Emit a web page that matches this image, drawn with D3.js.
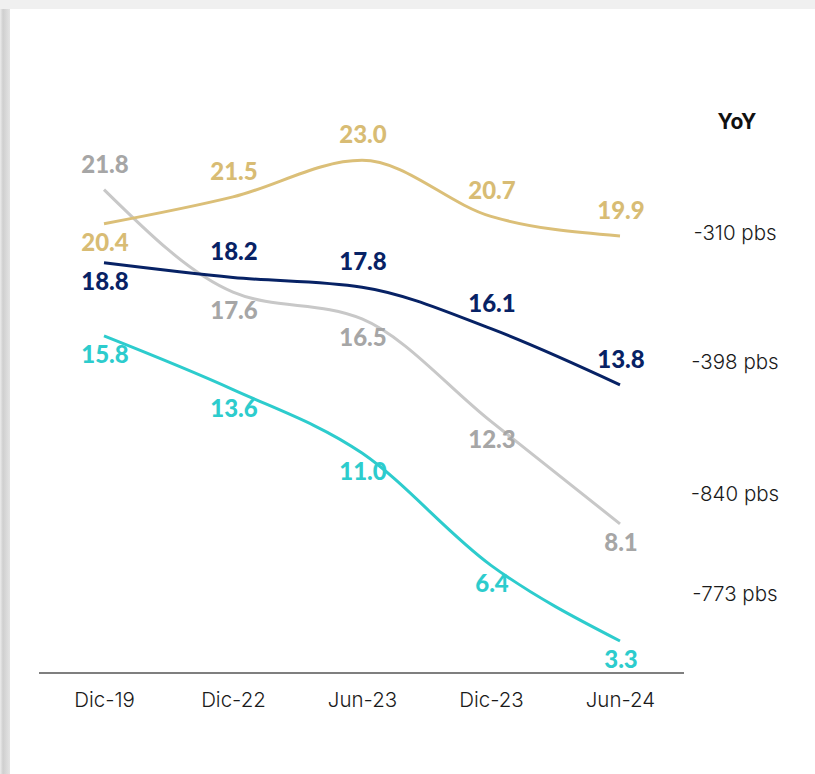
<!DOCTYPE html>
<html>
<head>
<meta charset="utf-8">
<script src="https://cdn.jsdelivr.net/npm/d3@7"></script>
<style>
  html, body { margin: 0; padding: 0; background: #f0f0f0; }
  svg { display: block; }
</style>
</head>
<body>
<svg id="chart" width="815" height="774"></svg>
<script>
// Periods on the x axis
const periods = ["Dic-19", "Dic-22", "Jun-23", "Dic-23", "Jun-24"];

// Series values (%)
const goldValues = [20.4, 21.5, 23.0, 20.7, 19.9];
const navyValues = [18.8, 18.2, 17.8, 16.1, 13.8];
const grayValues = [21.8, 17.6, 16.5, 12.3, 8.1];
const tealValues = [15.8, 13.6, 11.0, 6.4, 3.3];

// Label placement per point: "a" = above the line, "b" = below
const goldPlace = ["b", "a", "a", "a", "a"];
const navyPlace = ["b", "a", "a", "a", "a"];
const grayPlace = ["a", "b", "b", "b", "b"];
const tealPlace = ["b", "b", "b", "b", "b"];

// Year-over-year change labels on the right
const yoyTitle = "YoY";
const yoyLabels = ["-310 pbs", "-398 pbs", "-840 pbs", "-773 pbs"];
const yoyValues = [20.1, 14.8, 9.4, 5.3];

const series = [
  { values: grayValues, place: grayPlace, line: "#c8c8c8", text: "#a6a6a6" },
  { values: goldValues, place: goldPlace, line: "#dbbf78", text: "#d8bc74" },
  { values: tealValues, place: tealPlace, line: "#2dcccd", text: "#2dcccd" },
  { values: navyValues, place: navyPlace, line: "#072265", text: "#072265" }
];

const svg = d3.select("#chart");

// Card with a soft left shadow
const defs = svg.append("defs");
const grad = defs.append("linearGradient").attr("id", "shadow").attr("x1", "0").attr("x2", "1");
grad.append("stop").attr("offset", "0").attr("stop-color", "#ececec");
grad.append("stop").attr("offset", "0.3").attr("stop-color", "#cfcfcf");
grad.append("stop").attr("offset", "1").attr("stop-color", "#e4e4e4");
svg.append("rect").attr("x", 0).attr("y", 9).attr("width", 10).attr("height", 765).attr("fill", "url(#shadow)");
svg.append("rect").attr("x", 10).attr("y", 9).attr("width", 805).attr("height", 765).attr("fill", "#ffffff");

const x = d3.scalePoint().domain(periods).range([104, 620]);
const y = d3.scaleLinear().domain([0, 25]).range([721.5, 111.5]);

// Baseline axis
const axis = d3.axisBottom(x).tickSize(0).tickPadding(19);
const axisG = svg.append("g").attr("transform", "translate(0,673)").call(axis);
axisG.select(".domain").remove();
axisG.append("line").attr("x1", 39).attr("x2", 684).attr("y1", 0).attr("y2", 0)
  .attr("stroke", "#555555").attr("stroke-width", 1.5);
axisG.selectAll(".tick text")
  .attr("font-family", "Inter, 'Noto Sans', sans-serif")
  .attr("font-weight", 300)
  .attr("font-size", 20.5).attr("fill", "#1a1a1a");

const line = d3.line()
  .x((d, i) => x(periods[i]))
  .y(d => y(d))
  .curve(d3.curveMonotoneX);

series.forEach(s => {
  svg.append("path")
    .attr("d", line(s.values))
    .attr("fill", "none")
    .attr("stroke", s.line)
    .attr("stroke-width", 3)
    .attr("stroke-linecap", "butt");
});

series.forEach(s => {
  svg.append("g").selectAll("text")
    .data(s.values)
    .join("text")
    .attr("x", (d, i) => x(periods[i]) + 1)
    .attr("y", (d, i) => y(d) + (s.place[i] === "a" ? -17 : 27))
    .attr("text-anchor", "middle")
    .attr("font-family", "Lato, 'Noto Sans', sans-serif")
    .attr("font-weight", 900)
    .attr("font-size", 24)
    .attr("fill", s.text)
    .text(d => d.toFixed(1));
});

// YoY column
svg.append("text")
  .attr("x", 737).attr("y", 129)
  .attr("text-anchor", "middle")
  .attr("font-family", "Inter, 'Noto Sans', sans-serif")
  .attr("font-weight", 700).attr("font-size", 21).attr("fill", "#111111")
  .text(yoyTitle);

svg.append("g").selectAll("text")
  .data(yoyLabels)
  .join("text")
  .attr("x", 735)
  .attr("y", (d, i) => y(yoyValues[i]) + 9)
  .attr("text-anchor", "middle")
  .attr("font-family", "Inter, 'Noto Sans', sans-serif")
  .attr("font-weight", 300)
  .attr("font-size", 20.5).attr("fill", "#1a1a1a")
  .text(d => d);
</script>
</body>
</html>
